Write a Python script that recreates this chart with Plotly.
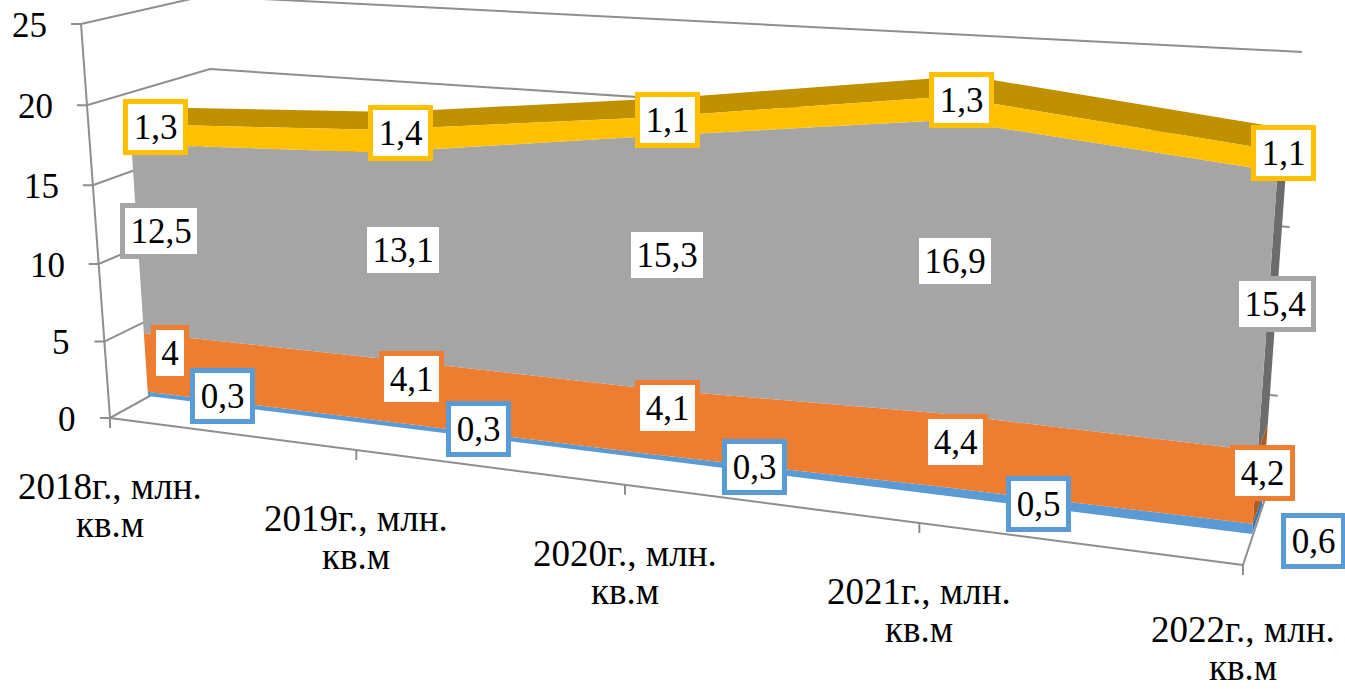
import numpy as np
import plotly.graph_objects as go

CATEGORIES = ["2018г., млн.<br>кв.м", "2019г., млн.<br>кв.м", "2020г., млн.<br>кв.м",
              "2021г., млн.<br>кв.м", "2022г., млн.<br>кв.м"]
SERIES_A = [0.3, 0.3, 0.3, 0.5, 0.6]
SERIES_B = [4, 4.1, 4.1, 4.4, 4.2]
SERIES_C = [12.5, 13.1, 15.3, 16.9, 15.4]
SERIES_D = [1.3, 1.4, 1.1, 1.3, 1.1]
VALUE_TICKS = [0, 5, 10, 15, 20, 25]

BLUE, ORANGE, GRAY, YELLOW = "#5B9BD5", "#ED7D31", "#A5A5A5", "#FFC000"
SIDE = {ORANGE: "#AE5A21", GRAY: "#6C6C6C", YELLOW: "#BF9000", BLUE: "#3E75A8"}
LINE = "#8E8E8E"
FONT = "Liberation Serif"
FS = 35


def homography(src, dst):
    A, b = [], []
    for (u, v), (x, y) in zip(src, dst):
        A.append([u, v, 1, 0, 0, 0, -u * x, -v * x]); b.append(x)
        A.append([0, 0, 0, u, v, 1, -u * y, -v * y]); b.append(y)
    h = np.linalg.solve(np.array(A, float), np.array(b, float))
    m = np.append(h, 1).reshape(3, 3)

    def project(u, v):
        u, v = np.asarray(u, float), np.asarray(v, float)
        w = m[2, 0] * u + m[2, 1] * v + 1
        return (m[0, 0] * u + m[0, 1] * v + m[0, 2]) / w, (m[1, 0] * u + m[1, 1] * v + m[1, 2]) / w
    return project


def edge(t0, p0, t1, p1, t2, p2):
    """Perspective scale along one straight edge, from three points on it."""
    p0, p1, p2 = (np.array(p, float) for p in (p0, p1, p2))
    # the main coordinate fixes the perspective; the other follows along the straight edge
    k = int(abs(p2[1] - p0[1]) > abs(p2[0] - p0[0]))
    (a, g) = np.linalg.solve([[t1 - t0, -(t1 - t0) * p1[k]], [t2 - t0, -(t2 - t0) * p2[k]]],
                             [p1[k] - p0[k], p2[k] - p0[k]])

    def at(t):
        s = np.asarray(t, float) - t0
        main = (p0[k] + a * s) / (1 + g * s)
        frac = (main - p0[k]) / (p2[k] - p0[k])
        return p0[0] + frac * (p2[0] - p0[0]), p0[1] + frac * (p2[1] - p0[1])
    return at


# The view: perspective planes and edges of the 3D chart box
front = homography([(0, 0), (4, 0), (0, 18.1), (4, 21.3)], [(148, 396), (1252, 534), (130, 124), (1279, 151)])
back = homography([(0, 0), (4, 0), (0, 18.1), (4, 21.3)], [(165, 386), (1262, 505), (138, 107), (1289, 129)])
value_edge = edge(0, (110, 418), 10, (98.7, 264), 25, (81, 24))
corner_edge = edge(0, (233, 350), 20, (211, 69), 25, (204, -4))
right_edge = edge(0, (1272, 478), 15, (1289, 227), 25, (1302, 52))
floor_edge = edge(0, (110, 418), 2, (625, 485), 4, (1243, 565))

fig = go.Figure()


def poly(xs, ys, color):
    fig.add_trace(go.Scatter(x=list(xs), y=list(ys), mode="lines", fill="toself", fillcolor=color,
                             line=dict(width=0), hoverinfo="skip", showlegend=False))


def line(xs, ys, width=2):
    fig.add_trace(go.Scatter(x=list(xs), y=list(ys), mode="lines", line=dict(color=LINE, width=width),
                             hoverinfo="skip", showlegend=False))


# Walls and floor
for v in VALUE_TICKS:
    x0, y0 = value_edge(v)
    x1, y1 = corner_edge(v)
    x2, y2 = right_edge(v)
    line([x0 - 10, x0, x1, x2], [y0, y0, y1, y2])
x0, y0 = value_edge(0)
x1, y1 = value_edge(25)
line([x0, x1], [y0, y1])
xa, ya = floor_edge(np.arange(5))
line(xa, ya)
xb, yb = right_edge(0)
line([xa[-1], xb], [ya[-1], yb])
for xt, yt in zip(xa, ya):
    line([xt, xt], [yt, yt + 10])

# Stacked layers
u = np.arange(5)
stack = np.cumsum([SERIES_A, SERIES_B, SERIES_C, SERIES_D], axis=0)
lower = np.vstack([np.zeros(5), stack[:-1]])
colors = [BLUE, ORANGE, GRAY, YELLOW]

# Right end faces and the top face, behind the front faces
for lo, hi, c in zip(lower, stack, colors):
    fx0, fy0 = front(4, lo[-1]); fx1, fy1 = front(4, hi[-1])
    bx0, by0 = back(4, lo[-1]); bx1, by1 = back(4, hi[-1])
    poly([fx0, fx1, bx1, bx0, fx0], [fy0, fy1, by1, by0, fy0], SIDE[c])
fx, fy = front(u, stack[-1])
bx, by = back(u, stack[-1])
poly(list(fx) + list(bx[::-1]) + [fx[0]], list(fy) + list(by[::-1]) + [fy[0]], SIDE[YELLOW])
for lo, hi, c in zip(lower, stack, colors):
    tx, ty = front(u, hi)
    lx, ly = front(u, lo)
    poly(list(tx) + list(lx[::-1]) + [tx[0]], list(ty) + list(ly[::-1]) + [ty[0]], c)

annotations = []
# Value axis labels
for v in VALUE_TICKS:
    x, y = value_edge(v)
    annotations.append(dict(x=x - 32, y=y + 1, text=str(v), xanchor="right", yanchor="middle", showarrow=False,
                            font=dict(family=FONT, size=FS, color="#000")))
# Category labels, one annotation per line for the tight line spacing
for name, xt, yt in zip(CATEGORIES, xa, ya):
    lift = max(0, yt + 106 - 667)  # keep the lowest label inside the page
    for part, dy in zip(name.split("<br>"), (68, 106)):
        annotations.append(dict(x=xt, y=yt + dy - lift, text=part, xanchor="center", yanchor="middle",
                                showarrow=False, height=36, font=dict(family=FONT, size=37, color="#000")))

# Data labels: centre of each box on the page
LABEL_CENTRES = {
    YELLOW: [(155, 127), (400, 133), (667, 120), (961, 100), (1283, 153)],
    GRAY: [(161, 231), (403, 250), (667, 255), (955, 261), (1275, 304)],
    ORANGE: [(170, 353), (411, 379), (667, 408), (955, 442), (1262, 473)],
    BLUE: [(222, 396), (478, 429), (754, 467), (1038, 504), (1313, 541)],
}
for vals, c in zip([SERIES_A, SERIES_B, SERIES_C, SERIES_D], colors):
    for val, (lx, ly) in zip(vals, LABEL_CENTRES[c]):
        txt = f"{val:g}".replace(".", ",")
        w = {1: 18, 3: 45, 4: 62}[len(txt)] + 10
        annotations.append(dict(x=lx, y=ly, text=txt, xanchor="center", yanchor="middle", showarrow=False,
                                width=w, height=46, bgcolor="#FFFFFF", bordercolor=c, borderwidth=5, borderpad=0,
                                font=dict(family=FONT, size=FS, color="#000")))

fig.update_layout(width=1345, height=689, margin=dict(l=0, r=0, t=0, b=0), paper_bgcolor="#FFFFFF",
                  plot_bgcolor="#FFFFFF", showlegend=False, annotations=annotations,
                  xaxis=dict(range=[0, 1345], visible=False, fixedrange=True),
                  yaxis=dict(range=[689, 0], visible=False, fixedrange=True))
fig.write_html("out.html", config={"displayModeBar": False},
               post_script="document.body.style.margin='0';document.documentElement.style.overflow='hidden';")
